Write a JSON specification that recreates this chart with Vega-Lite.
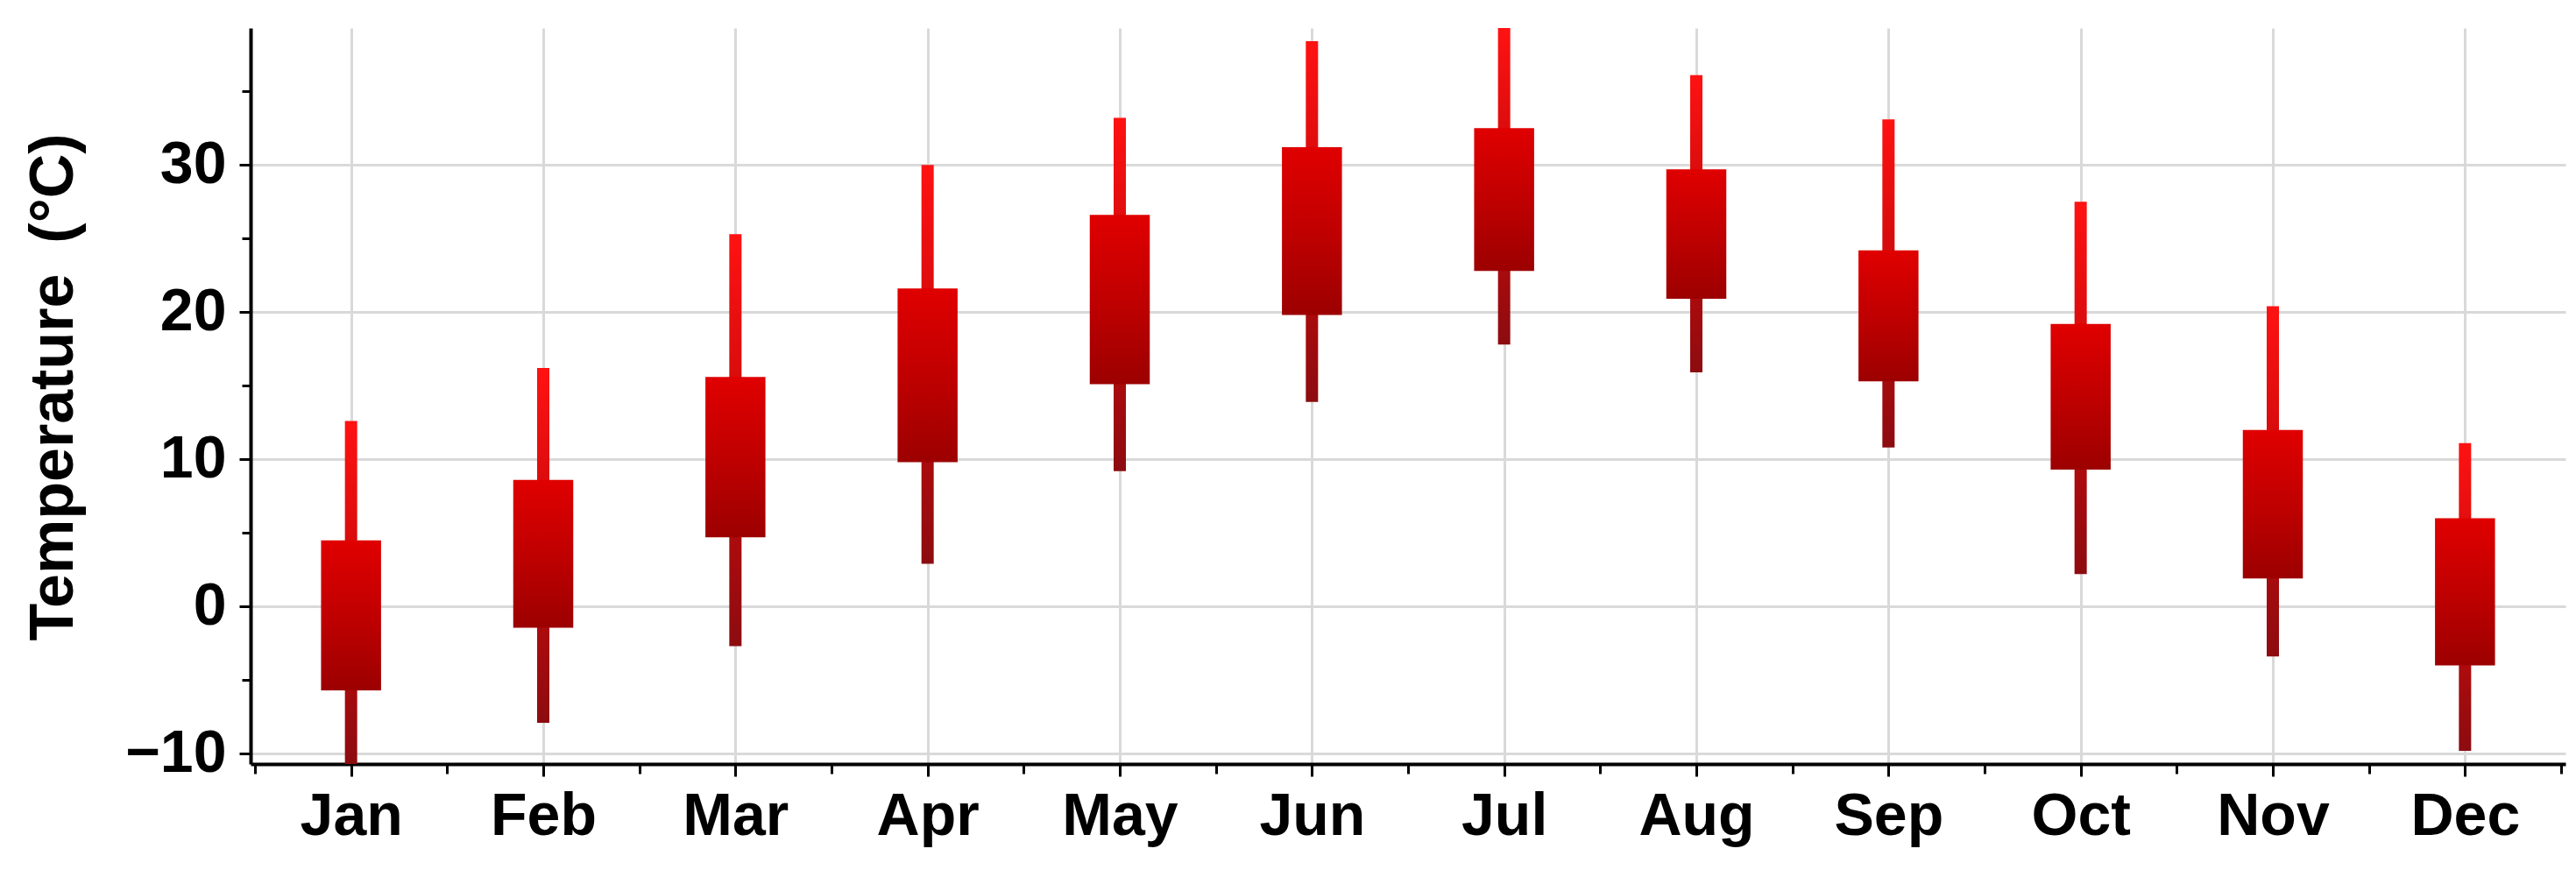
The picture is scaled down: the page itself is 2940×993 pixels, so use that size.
{
  "$schema": "https://vega.github.io/schema/vega-lite/v6.json",
  "autosize": {"type": "none"},
  "padding": {"left": 286, "top": 32, "right": 12, "bottom": 121},
  "width": 2642,
  "height": 840,
  "background": "#ffffff",
  "config": {
    "view": {"stroke": null},
    "font": "Liberation Sans",
    "axis": {
      "domainColor": "#000000",
      "domainWidth": 4,
      "tickColor": "#000000",
      "tickWidth": 3,
      "gridColor": "#d9d9d9",
      "gridWidth": 3,
      "labelFont": "Liberation Sans",
      "labelFontWeight": "bold",
      "labelFontSize": 68,
      "labelColor": "#000000",
      "titleFont": "Liberation Sans",
      "titleFontWeight": "bold",
      "titleFontSize": 70,
      "titleColor": "#000000"
    }
  },
  "data": {
    "values": [
      {"month": "Jan", "i": 1, "lo": -10.7, "boxLo": -5.7, "boxHi": 4.5, "hi": 12.6},
      {"month": "Feb", "i": 2, "lo": -7.9, "boxLo": -1.45, "boxHi": 8.6, "hi": 16.2},
      {"month": "Mar", "i": 3, "lo": -2.7, "boxLo": 4.7, "boxHi": 15.6, "hi": 25.3},
      {"month": "Apr", "i": 4, "lo": 2.9, "boxLo": 9.8, "boxHi": 21.6, "hi": 30.0},
      {"month": "May", "i": 5, "lo": 9.2, "boxLo": 15.1, "boxHi": 26.6, "hi": 33.2},
      {"month": "Jun", "i": 6, "lo": 13.9, "boxLo": 19.8, "boxHi": 31.2, "hi": 38.4},
      {"month": "Jul", "i": 7, "lo": 17.8, "boxLo": 22.8, "boxHi": 32.5, "hi": 39.3},
      {"month": "Aug", "i": 8, "lo": 15.9, "boxLo": 20.9, "boxHi": 29.7, "hi": 36.1},
      {"month": "Sep", "i": 9, "lo": 10.8, "boxLo": 15.3, "boxHi": 24.2, "hi": 33.1},
      {"month": "Oct", "i": 10, "lo": 2.2, "boxLo": 9.3, "boxHi": 19.2, "hi": 27.5},
      {"month": "Nov", "i": 11, "lo": -3.4, "boxLo": 1.9, "boxHi": 12.0, "hi": 20.4},
      {"month": "Dec", "i": 12, "lo": -9.8, "boxLo": -4.0, "boxHi": 6.0, "hi": 11.1}
    ]
  },
  "encoding": {
    "x": {
      "field": "i",
      "type": "quantitative",
      "scale": {"domain": [0.5, 12.5], "nice": false, "zero": false},
      "axis": {
        "title": null,
        "values": [0.5, 1, 1.5, 2, 2.5, 3, 3.5, 4, 4.5, 5, 5.5, 6, 6.5, 7, 7.5, 8, 8.5, 9, 9.5, 10, 10.5, 11, 11.5, 12, 12.5],
        "labelExpr": "datum.value % 1 === 0 ? ['Jan','Feb','Mar','Apr','May','Jun','Jul','Aug','Sep','Oct','Nov','Dec'][datum.value - 1] : ''",
        "labelPadding": 12,
        "labelFlush": false,
        "labelOverlap": false,
        "tickSize": {"condition": {"test": "datum.value % 1 !== 0", "value": 11}, "value": 14},
        "gridOpacity": {"condition": {"test": "datum.value % 1 !== 0", "value": 0}, "value": 1},
        "grid": true
      }
    }
  },
  "layer": [
    {
      "mark": {
        "type": "bar",
        "width": 14,
        "color": {
          "gradient": "linear",
          "x1": 0, "y1": 0, "x2": 0, "y2": 1,
          "stops": [
            {"offset": 0, "color": "#ff1212"},
            {"offset": 0.5, "color": "#c80a0a"},
            {"offset": 1, "color": "#8c0c10"}
          ]
        }
      },
      "encoding": {
        "y": {
          "field": "lo",
          "type": "quantitative",
          "scale": {"domain": [-10.7, 39.3], "nice": false, "zero": false},
          "axis": {
            "title": "Temperature\u2002(°C)",
            "titleAngle": -90,
            "titleAlign": "center",
            "titleBaseline": "alphabetic",
            "titleX": -204,
            "titleY": 409.5,
            "values": [-10, -5, 0, 5, 10, 15, 20, 25, 30, 35],
            "labelExpr": "datum.value % 10 === 0 ? datum.label : ''",
            "labelPadding": 15,
            "labelFlush": false,
            "labelOverlap": false,
            "tickSize": {"condition": {"test": "datum.value % 10 !== 0", "value": 10}, "value": 13},
            "gridOpacity": {"condition": {"test": "datum.value % 10 !== 0", "value": 0}, "value": 1},
            "grid": true
          }
        },
        "y2": {"field": "hi"}
      }
    },
    {
      "mark": {
        "type": "bar",
        "width": 68.5,
        "color": {
          "gradient": "linear",
          "x1": 0, "y1": 0, "x2": 0, "y2": 1,
          "stops": [
            {"offset": 0, "color": "#e00000"},
            {"offset": 0.5, "color": "#c00000"},
            {"offset": 1, "color": "#9c0000"}
          ]
        }
      },
      "encoding": {
        "y": {"field": "boxLo", "type": "quantitative"},
        "y2": {"field": "boxHi"}
      }
    }
  ]
}
